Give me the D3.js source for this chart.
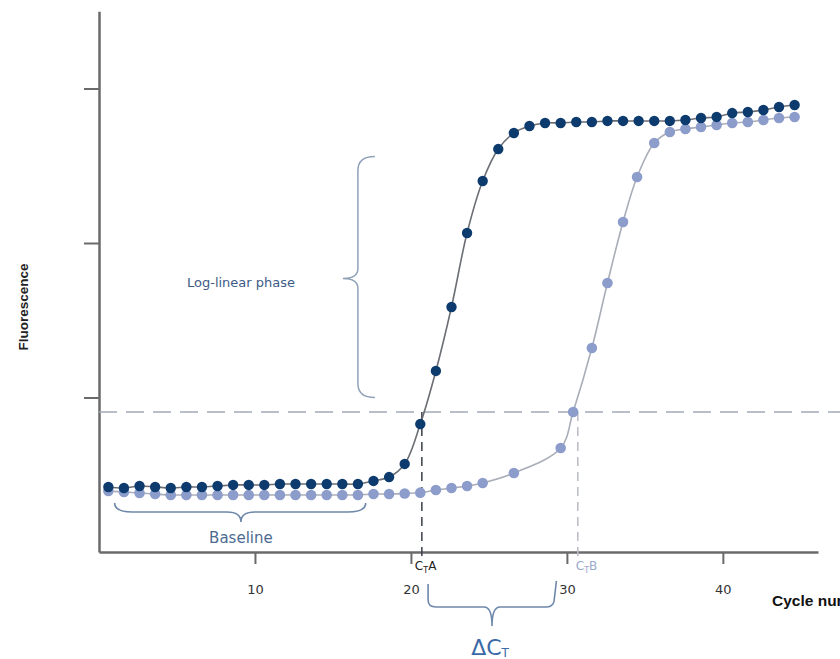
<!DOCTYPE html>
<html>
<head>
<meta charset="utf-8">
<script src="https://cdn.jsdelivr.net/npm/d3@7"></script>
<style>
body { margin: 0; background: #fff; overflow: hidden; }
svg { display: block; font-family: "DejaVu Sans", Lato, sans-serif; }
</style>
</head>
<body>
<script>
// readings (cycle, fluorescence in arbitrary units)
var cyclesA = [0.6, 1.6, 2.6, 3.6, 4.6, 5.6, 6.6, 7.6, 8.6, 9.6, 10.6, 11.6, 12.6, 13.6, 14.6,
    15.6, 16.6, 17.6, 18.6, 19.6, 20.6, 21.6, 22.6, 23.6, 24.6, 25.6, 26.6, 27.6, 28.6, 29.6,
    30.6, 31.6, 32.6, 33.6, 34.6, 35.6, 36.6, 37.6, 38.6, 39.6, 40.6, 41.6, 42.6, 43.6, 44.6];
var fluorA = [0.421, 0.414, 0.427, 0.421, 0.414, 0.421, 0.421, 0.427, 0.434, 0.434, 0.434, 0.440,
    0.440, 0.440, 0.440, 0.440, 0.440, 0.460, 0.485, 0.570, 0.828, 1.172, 1.586, 2.065, 2.401,
    2.608, 2.712, 2.757, 2.777, 2.777, 2.783, 2.783, 2.790, 2.790, 2.790, 2.790, 2.790, 2.796,
    2.809, 2.816, 2.841, 2.848, 2.861, 2.880, 2.893];

var cyclesB = [0.6, 1.6, 2.6, 3.6, 4.6, 5.6, 6.6, 7.6, 8.6, 9.6, 10.6, 11.6, 12.6, 13.6, 14.6,
    15.6, 16.6, 17.6, 18.6, 19.6, 20.6, 21.6, 22.6, 23.6, 24.6, 26.6, 29.6, 30.4, 31.6, 32.6,
    33.6, 34.5, 35.6, 36.6, 37.6, 38.6, 39.6, 40.6, 41.6, 42.6, 43.6, 44.6];
var fluorB = [0.395, 0.388, 0.382, 0.375, 0.369, 0.369, 0.369, 0.369, 0.369, 0.369, 0.369, 0.369,
    0.369, 0.369, 0.369, 0.369, 0.369, 0.375, 0.375, 0.379, 0.384, 0.401, 0.414, 0.427, 0.447,
    0.511, 0.673, 0.906, 1.320, 1.741, 2.136, 2.427, 2.647, 2.718, 2.738, 2.751, 2.764, 2.777,
    2.783, 2.796, 2.809, 2.816];

var xTicks = [10, 20, 30, 40];
var yTicks = [1, 2, 3];
var threshold = 0.906;
var ctA = 20.7;
var ctB = 30.7;

var svgWidth = 840;
var svgHeight = 659;

var svg = d3.select("body")
    .append("svg")
    .attr("width", svgWidth)
    .attr("height", svgHeight);

var x = d3.scaleLinear().domain([0, 46.1]).range([99, 818]);
var y = d3.scaleLinear().domain([0, 3.5]).range([552, 11.25]);

var dataA = cyclesA.map(function(c, i) { return [c, fluorA[i]]; });
var dataB = cyclesB.map(function(c, i) { return [c, fluorB[i]]; });

// axes
var xAxis = svg.append("g")
    .attr("transform", "translate(0," + y(0) + ")")
    .call(d3.axisBottom(x).tickValues(xTicks).tickSize(12).tickSizeOuter(0).tickPadding(21));
var yAxis = svg.append("g")
    .attr("transform", "translate(" + x(0) + ",0)")
    .call(d3.axisLeft(y).tickValues(yTicks).tickSize(15).tickSizeOuter(0).tickFormat(""));

[xAxis, yAxis].forEach(function(g) {
    g.select(".domain").attr("stroke", "#6a6a6a").attr("stroke-width", 2.5);
    g.selectAll(".tick line").attr("stroke", "#6a6a6a").attr("stroke-width", 2);
});
xAxis.selectAll(".tick text")
    .attr("fill", "#333")
    .style("font-family", "'DejaVu Sans', sans-serif")
    .style("font-size", "13px");

// threshold and Ct lines
svg.append("line")
    .attr("x1", x(0)).attr("x2", svgWidth)
    .attr("y1", y(threshold)).attr("y2", y(threshold))
    .attr("stroke", "#a3abb8")
    .attr("stroke-width", 1.5)
    .attr("stroke-dasharray", "18,9");

svg.append("line")
    .attr("x1", x(ctA)).attr("x2", x(ctA))
    .attr("y1", y(threshold)).attr("y2", y(0) + 4)
    .attr("stroke", "#3a3f48")
    .attr("stroke-width", 1.5)
    .attr("stroke-dasharray", "9,6");

svg.append("line")
    .attr("x1", x(ctB)).attr("x2", x(ctB))
    .attr("y1", y(threshold)).attr("y2", y(0) + 4)
    .attr("stroke", "#b8bcc4")
    .attr("stroke-width", 1.5)
    .attr("stroke-dasharray", "9,6");

// curves
var line = d3.line()
    .x(function(d) { return x(d[0]); })
    .y(function(d) { return y(d[1]); })
    .curve(d3.curveCatmullRom.alpha(0.5));

svg.append("path")
    .datum(dataB)
    .attr("d", line)
    .attr("fill", "none")
    .attr("stroke", "#a9adb8")
    .attr("stroke-width", 1.6);

svg.selectAll("circle.b")
    .data(dataB)
    .enter()
    .append("circle")
    .attr("class", "b")
    .attr("cx", function(d) { return x(d[0]); })
    .attr("cy", function(d) { return y(d[1]); })
    .attr("r", 5.3)
    .attr("fill", "#8c9ccb");

svg.append("path")
    .datum(dataA)
    .attr("d", line)
    .attr("fill", "none")
    .attr("stroke", "#6b6e75")
    .attr("stroke-width", 1.6);

svg.selectAll("circle.a")
    .data(dataA)
    .enter()
    .append("circle")
    .attr("class", "a")
    .attr("cx", function(d) { return x(d[0]); })
    .attr("cy", function(d) { return y(d[1]); })
    .attr("r", 5.2)
    .attr("fill", "#0d3b6e");

// braces
var braceColor = "#6d88aa";

// baseline brace
var bx1 = x(1), bx2 = x(17.1), bxm = x(9.1);
svg.append("path")
    .attr("d", "M" + bx1 + ",503 Q" + bx1 + ",512 " + (bx1 + 18) + ",512 L" + (bxm - 14) + ",512 Q" + bxm + ",512 " + bxm + ",522"
        + " Q" + bxm + ",512 " + (bxm + 14) + ",512 L" + (bx2 - 18) + ",512 Q" + bx2 + ",512 " + bx2 + ",503")
    .attr("fill", "none").attr("stroke", braceColor).attr("stroke-width", 1.6);

svg.append("text")
    .attr("x", bxm).attr("y", 543)
    .attr("text-anchor", "middle")
    .attr("fill", "#4d6b92")
    .style("font-size", "15px")
    .text("Baseline");

// log-linear brace
var lx = x(16.6), ly1 = y(2.56), ly2 = y(1.0), lym = y(1.77);
svg.append("path")
    .attr("d", "M" + (lx + 17) + "," + ly1 + " Q" + lx + "," + ly1 + " " + lx + "," + (ly1 + 14)
        + " L" + lx + "," + (lym - 10) + " Q" + lx + "," + lym + " " + (lx - 15) + "," + lym
        + " Q" + lx + "," + lym + " " + lx + "," + (lym + 10)
        + " L" + lx + "," + (ly2 - 14) + " Q" + lx + "," + ly2 + " " + (lx + 17) + "," + ly2)
    .attr("fill", "none").attr("stroke", "#8fa2b8").attr("stroke-width", 1.5);

svg.append("text")
    .attr("x", 241).attr("y", 287)
    .attr("text-anchor", "middle")
    .attr("fill", "#3d5b86")
    .style("font-size", "13px")
    .text("Log-linear phase");

// delta Ct brace
var dx1 = x(21.1), dx2 = x(29.2), dxm = x(25.2);
svg.append("path")
    .attr("d", "M" + dx1 + ",584 L" + dx1 + ",600 Q" + dx1 + ",607 " + (dx1 + 8) + ",607 L" + (dxm - 8) + ",607 Q" + dxm + ",607 " + dxm + ",626"
        + " Q" + dxm + ",607 " + (dxm + 8) + ",607 L" + (dx2 - 8) + ",607 Q" + dx2 + ",607 " + dx2 + ",598 L" + (dx2 + 2) + ",581")
    .attr("fill", "none").attr("stroke", braceColor).attr("stroke-width", 1.6);

var dct = svg.append("text")
    .attr("x", dxm - 2).attr("y", 655)
    .attr("text-anchor", "middle")
    .attr("fill", "#3b6aa6")
    .style("font-size", "22px");
dct.append("tspan").text("ΔC");
dct.append("tspan").attr("dy", 2).style("font-size", "12px").text("T");

// Ct labels
function ctLabel(cx, letter, color) {
    var t = svg.append("text")
        .attr("x", cx).attr("y", 570)
        .attr("fill", color)
        .style("font-size", "12px");
    t.append("tspan").text("C");
    t.append("tspan").attr("dy", 3).style("font-size", "8px").text("T");
    t.append("tspan").attr("dy", -3).text(letter);
}
ctLabel(x(ctA) - 7, "A", "#222");
ctLabel(x(ctB) - 2, "B", "#9aa9cc");

// axis titles
svg.append("text")
    .attr("transform", "translate(28,307) rotate(-90)")
    .attr("text-anchor", "middle")
    .attr("fill", "#222")
    .style("font-family", "'Liberation Sans', Arial, sans-serif")
    .style("font-weight", "bold")
    .style("font-size", "13.5px")
    .text("Fluorescence");

svg.append("text")
    .attr("x", 772).attr("y", 606)
    .attr("fill", "#111")
    .style("font-family", "'Liberation Sans', Arial, sans-serif")
    .style("font-weight", "bold")
    .style("font-size", "15.5px")
    .text("Cycle number");
</script>
</body>
</html>
